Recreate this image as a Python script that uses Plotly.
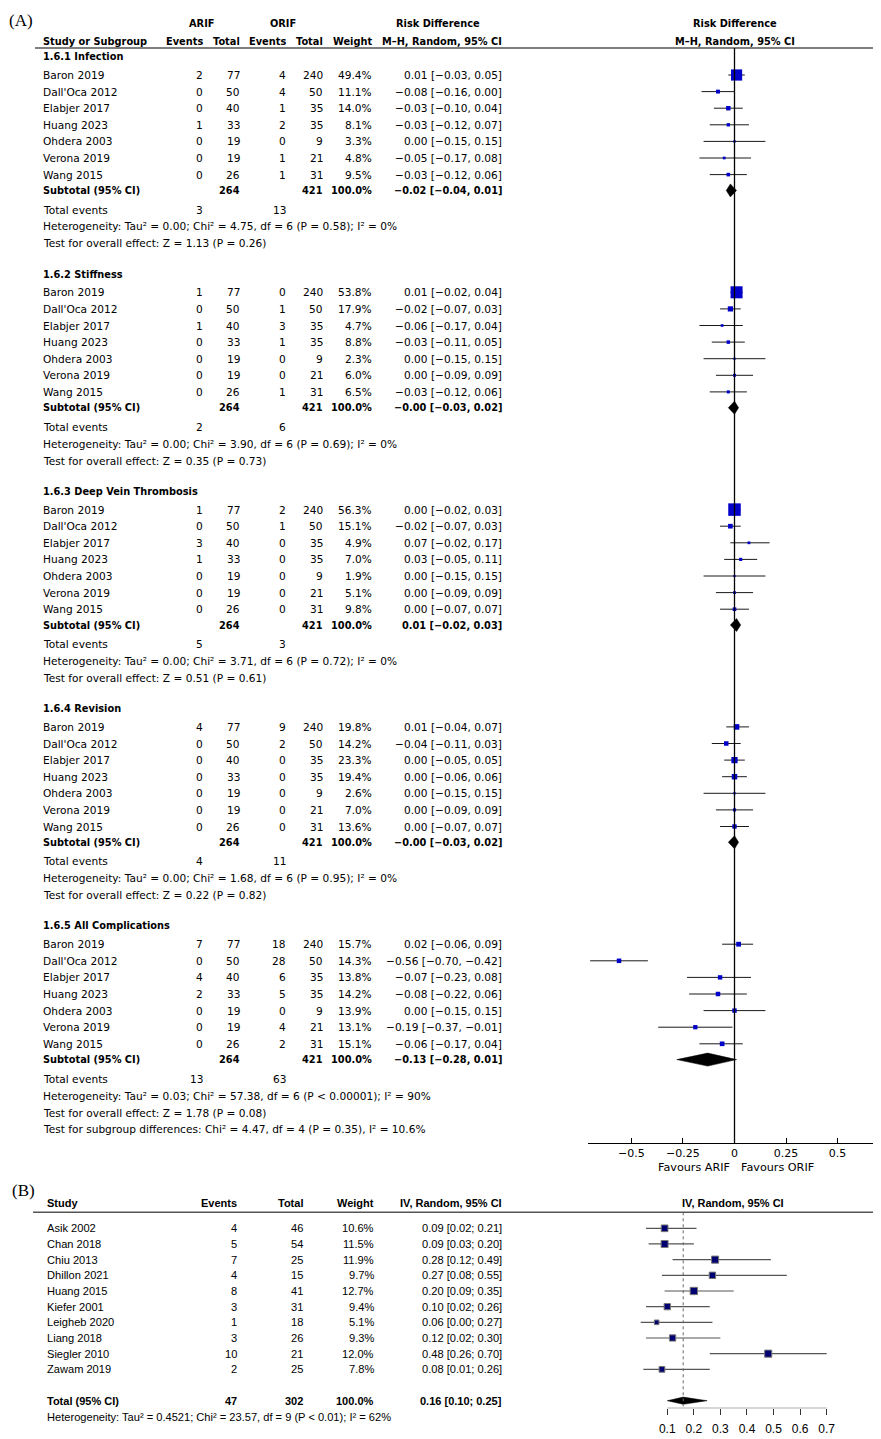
import plotly.graph_objects as go

# ---------------- Panel A data ----------------
group_titles = ["1.6.1 Infection", "1.6.2 Stiffness", "1.6.3 Deep Vein Thrombosis",
                "1.6.4 Revision", "1.6.5 All Complications"]
studies_a = ["Baron 2019", "Dall'Oca 2012", "Elabjer 2017", "Huang 2023",
             "Ohdera 2003", "Verona 2019", "Wang 2015"]
arif_total = [77, 50, 40, 33, 19, 19, 26]
orif_total = [240, 50, 35, 35, 9, 21, 31]
arif_events = [[2, 0, 0, 1, 0, 0, 0],
               [1, 0, 1, 0, 0, 0, 0],
               [1, 0, 3, 1, 0, 0, 0],
               [4, 0, 0, 0, 0, 0, 0],
               [7, 0, 4, 2, 0, 0, 0]]
orif_events = [[4, 4, 1, 2, 0, 1, 1],
               [0, 1, 3, 1, 0, 0, 1],
               [2, 1, 0, 0, 0, 0, 0],
               [9, 2, 0, 0, 0, 0, 0],
               [18, 28, 6, 5, 0, 4, 2]]
weights_a = [[49.4, 11.1, 14.0, 8.1, 3.3, 4.8, 9.5],
             [53.8, 17.9, 4.7, 8.8, 2.3, 6.0, 6.5],
             [56.3, 15.1, 4.9, 7.0, 1.9, 5.1, 9.8],
             [19.8, 14.2, 23.3, 19.4, 2.6, 7.0, 13.6],
             [15.7, 14.3, 13.8, 14.2, 13.9, 13.1, 15.1]]
rd_est = [[0.01, -0.08, -0.03, -0.03, 0.00, -0.05, -0.03],
          [0.01, -0.02, -0.06, -0.03, 0.00, 0.00, -0.03],
          [0.00, -0.02, 0.07, 0.03, 0.00, 0.00, 0.00],
          [0.01, -0.04, 0.00, 0.00, 0.00, 0.00, 0.00],
          [0.02, -0.56, -0.07, -0.08, 0.00, -0.19, -0.06]]
rd_lo = [[-0.03, -0.16, -0.10, -0.12, -0.15, -0.17, -0.12],
         [-0.02, -0.07, -0.17, -0.11, -0.15, -0.09, -0.12],
         [-0.02, -0.07, -0.02, -0.05, -0.15, -0.09, -0.07],
         [-0.04, -0.11, -0.05, -0.06, -0.15, -0.09, -0.07],
         [-0.06, -0.70, -0.23, -0.22, -0.15, -0.37, -0.17]]
rd_hi = [[0.05, 0.00, 0.04, 0.07, 0.15, 0.08, 0.06],
         [0.04, 0.03, 0.04, 0.05, 0.15, 0.09, 0.06],
         [0.03, 0.03, 0.17, 0.11, 0.15, 0.09, 0.07],
         [0.07, 0.03, 0.05, 0.06, 0.15, 0.09, 0.07],
         [0.09, -0.42, 0.08, 0.06, 0.15, -0.01, 0.04]]
sub_est = [-0.02, -0.00, 0.01, -0.00, -0.13]
sub_lo = [-0.04, -0.03, -0.02, -0.03, -0.28]
sub_hi = [0.01, 0.02, 0.03, 0.02, 0.01]
het_a = ["Heterogeneity: Tau² = 0.00; Chi² = 4.75, df = 6 (P = 0.58); I² = 0%",
         "Heterogeneity: Tau² = 0.00; Chi² = 3.90, df = 6 (P = 0.69); I² = 0%",
         "Heterogeneity: Tau² = 0.00; Chi² = 3.71, df = 6 (P = 0.72); I² = 0%",
         "Heterogeneity: Tau² = 0.00; Chi² = 1.68, df = 6 (P = 0.95); I² = 0%",
         "Heterogeneity: Tau² = 0.03; Chi² = 57.38, df = 6 (P < 0.00001); I² = 90%"]
overall_a = ["Test for overall effect: Z = 1.13 (P = 0.26)",
             "Test for overall effect: Z = 0.35 (P = 0.73)",
             "Test for overall effect: Z = 0.51 (P = 0.61)",
             "Test for overall effect: Z = 0.22 (P = 0.82)",
             "Test for overall effect: Z = 1.78 (P = 0.08)"]
subgroup_diff = "Test for subgroup differences: Chi² = 4.47, df = 4 (P = 0.35), I² = 10.6%"
ticks_a = [-0.5, -0.25, 0, 0.25, 0.5]
ticklabels_a = ["−0.5", "−0.25", "0", "0.25", "0.5"]

# ---------------- Panel B data ----------------
studies_b = ["Asik 2002", "Chan 2018", "Chiu 2013", "Dhillon 2021", "Huang 2015",
             "Kiefer 2001", "Leigheb 2020", "Liang 2018", "Siegler 2010", "Zawam 2019"]
events_b = [4, 5, 7, 4, 8, 3, 1, 3, 10, 2]
total_b = [46, 54, 25, 15, 41, 31, 18, 26, 21, 25]
weights_b = [10.6, 11.5, 11.9, 9.7, 12.7, 9.4, 5.1, 9.3, 12.0, 7.8]
est_b = [0.09, 0.09, 0.28, 0.27, 0.20, 0.10, 0.06, 0.12, 0.48, 0.08]
lo_b = [0.02, 0.03, 0.12, 0.08, 0.09, 0.02, 0.00, 0.02, 0.26, 0.01]
hi_b = [0.21, 0.20, 0.49, 0.55, 0.35, 0.26, 0.27, 0.30, 0.70, 0.26]
pooled_b = [0.16, 0.10, 0.25]
het_b = "Heterogeneity: Tau² = 0.4521; Chi² = 23.57, df = 9 (P < 0.01); I² = 62%"
ticks_b = [0.1, 0.2, 0.3, 0.4, 0.5, 0.6, 0.7]

# ---------------- geometry helpers (page pixels; body has an 8px margin) ----------------
OFF = 8
FW, FH = 881 - OFF, 1439 - OFF


def xp(x):
    return (x - OFF) / FW


def yd(y):
    return 1 - (y - OFF) / FH


FA = "DejaVu Sans"
FB = "Liberation Sans, Arial, sans-serif"
SA, SA_B = 10.6, 9.8
SB, SB_B = 11.1, 11.0
annotations = []
shapes = []


def mfmt(v):
    return f"{v:.2f}".replace("-", "−")


def txt(x, y, s, anchor="left", bold=False, size=None, family=FA, color="black"):
    if size is None:
        if family == FA:
            size = SA_B if bold else SA
        else:
            size = SB_B if bold else SB
    annotations.append(dict(x=xp(x), xref="paper", y=y, yref="y3",
                            text=f"<b>{s}</b>" if bold else s, xanchor=anchor, yanchor="middle",
                            showarrow=False, borderpad=0,
                            font=dict(family=family, size=size, color=color)))


def hline(x0, x1, y, color, width):
    shapes.append(dict(type="line", xref="paper", yref="y3", x0=xp(x0), x1=xp(x1), y0=y, y1=y,
                       line=dict(color=color, width=width)))


fig = go.Figure()

# ---------------- Panel A ----------------
A_TOP, A_BOT = 48, 1143
X_STUDY, X_EVA, X_TOA, X_EVO, X_TOO, X_W, X_CI = 42, 204, 241, 287, 324, 373, 503
G0, GSTEP = 56.7, 217.3

txt(8, 20, "(A)", family="Liberation Serif, Times New Roman, serif", size=17)
txt(201, 23, "ARIF", "center", True)
txt(283, 23, "ORIF", "center", True)
txt(438, 23, "Risk Difference", "center", True)
txt(735, 23, "Risk Difference", "center", True)
txt(X_STUDY, 41, "Study or Subgroup", "left", True)
txt(X_EVA, 41, "Events", "right", True)
txt(X_TOA, 41, "Total", "right", True)
txt(X_EVO, 41, "Events", "right", True)
txt(X_TOO, 41, "Total", "right", True)
txt(X_W, 41, "Weight", "right", True)
txt(X_CI, 41, "M–H, Random, 95% CI", "right", True)
txt(735, 41, "M–H, Random, 95% CI", "center", True)
hline(35, 881, A_TOP, "black", 1.2)

ci_x, ci_y, mk_x, mk_y, mk_s = [], [], [], [], []
for g in range(5):
    h = G0 + GSTEP * g
    txt(X_STUDY, h, group_titles[g], "left", True)
    for i, s in enumerate(studies_a):
        y = h + 18.3 + 16.6 * i
        txt(X_STUDY, y, s)
        txt(X_EVA, y, str(arif_events[g][i]), "right")
        txt(X_TOA, y, str(arif_total[i]), "right")
        txt(X_EVO, y, str(orif_events[g][i]), "right")
        txt(X_TOO, y, str(orif_total[i]), "right")
        txt(X_W, y, f"{weights_a[g][i]:.1f}%", "right")
        txt(X_CI, y, f"{mfmt(rd_est[g][i])} [{mfmt(rd_lo[g][i])}, {mfmt(rd_hi[g][i])}]", "right")
        ci_x += [rd_lo[g][i], rd_hi[g][i], None]
        ci_y += [y, y, None]
        mk_x.append(rd_est[g][i])
        mk_y.append(y)
        mk_s.append(1.8 + 0.19 * weights_a[g][i])
    ys = h + 133.7
    txt(X_STUDY, ys, "Subtotal (95% CI)", "left", True)
    txt(X_TOA, ys, str(sum(arif_total)), "right", True)
    txt(X_TOO, ys, str(sum(orif_total)), "right", True)
    txt(X_W, ys, "100.0%", "right", True)
    txt(X_CI, ys, f"{mfmt(sub_est[g])} [{mfmt(sub_lo[g])}, {mfmt(sub_hi[g])}]", "right", True)
    dh = 6.5
    fig.add_trace(go.Scatter(x=[sub_lo[g], sub_est[g], sub_hi[g], sub_est[g], sub_lo[g]],
                             y=[ys, ys - dh, ys, ys + dh, ys], mode="lines", fill="toself",
                             fillcolor="black", line=dict(color="black", width=0.5),
                             xaxis="x", yaxis="y", hoverinfo="skip"))
    yt = h + 152.8
    txt(X_STUDY, yt, "Total events")
    txt(X_EVA, yt, str(sum(arif_events[g])), "right")
    txt(X_EVO, yt, str(sum(orif_events[g])), "right")
    txt(X_STUDY, h + 169.6, het_a[g])
    txt(X_STUDY, h + 186.6, overall_a[g])
    if g == 4:
        txt(X_STUDY, h + 203.0, subgroup_diff)

fig.add_trace(go.Scatter(x=ci_x, y=ci_y, mode="lines", line=dict(color="#1a1a1a", width=1),
                         xaxis="x", yaxis="y", hoverinfo="skip"))
fig.add_trace(go.Scatter(x=mk_x, y=mk_y, mode="markers",
                         marker=dict(symbol="square", size=mk_s, color="#0000c8", opacity=1,
                                     line=dict(width=0)),
                         xaxis="x", yaxis="y", hoverinfo="skip"))
shapes.append(dict(type="line", xref="x", yref="y", x0=0, x1=0, y0=A_TOP, y1=A_BOT,
                   line=dict(color="black", width=1.3)))
txt(731, 1167, "Favours ARIF", "right", size=11.2)
txt(740, 1167, "Favours ORIF", "left", size=11.2)

# ---------------- Panel B ----------------
B_TOP, B_BOT = 1212.3, 1408.3
XB_STUDY, XB_EV, XB_TO, XB_W, XB_CI = 46, 238, 304, 375, 503
txt(11, 1190, "(B)", family="Liberation Serif, Times New Roman, serif", size=17)
txt(XB_STUDY, 1202.7, "Study", "left", True, family=FB)
txt(XB_EV, 1202.7, "Events", "right", True, family=FB)
txt(XB_TO, 1202.7, "Total", "right", True, family=FB)
txt(XB_W, 1202.7, "Weight", "right", True, family=FB)
txt(XB_CI, 1202.7, "IV, Random, 95% CI", "right", True, family=FB)
txt(733, 1202.7, "IV, Random, 95% CI", "center", True, family=FB)
hline(33, 873, B_TOP, "#555555", 1.5)

bx, by, bmx, bmy, bms = [], [], [], [], []
for i, s in enumerate(studies_b):
    y = 1228.3 + 15.67 * i
    txt(XB_STUDY, y, s, "left", family=FB)
    txt(XB_EV, y, str(events_b[i]), "right", family=FB)
    txt(XB_TO, y, str(total_b[i]), "right", family=FB)
    txt(XB_W, y, f"{weights_b[i]:.1f}%", "right", family=FB)
    txt(XB_CI, y, f"{est_b[i]:.2f} [{lo_b[i]:.2f}; {hi_b[i]:.2f}]", "right", family=FB)
    bx += [lo_b[i], hi_b[i], None]
    by += [y, y, None]
    bmx.append(est_b[i])
    bmy.append(y)
    bms.append(2.05 * weights_b[i] ** 0.5)

yT = 1400.7
txt(XB_STUDY, yT, "Total (95% CI)", "left", True, family=FB)
txt(XB_EV, yT, str(sum(events_b)), "right", True, family=FB)
txt(XB_TO, yT, str(sum(total_b)), "right", True, family=FB)
txt(XB_W, yT, "100.0%", "right", True, family=FB)
txt(XB_CI, yT, f"{pooled_b[0]:.2f} [{pooled_b[1]:.2f}; {pooled_b[2]:.2f}]", "right", True, family=FB)
txt(XB_STUDY, 1417.3, het_b, "left", family=FB)

shapes.append(dict(type="line", xref="x2", yref="y2", x0=pooled_b[0], x1=pooled_b[0], y0=B_TOP, y1=B_BOT - 2,
                   line=dict(color="#666666", width=1, dash="dot")))
shapes.append(dict(type="line", xref="x2", yref="y2", x0=ticks_b[0], x1=ticks_b[-1], y0=B_BOT, y1=B_BOT,
                   line=dict(color="#333333", width=1)))

fig.add_trace(go.Scatter(x=bx, y=by, mode="lines", line=dict(color="#555555", width=1.2),
                         xaxis="x2", yaxis="y2", hoverinfo="skip"))
fig.add_trace(go.Scatter(x=bmx, y=bmy, mode="markers",
                         marker=dict(symbol="square", size=bms, color="#000070", opacity=1,
                                     line=dict(color="#777777", width=1)),
                         xaxis="x2", yaxis="y2", hoverinfo="skip"))
dhb = 3.6
fig.add_trace(go.Scatter(x=[pooled_b[1], pooled_b[0], pooled_b[2], pooled_b[0], pooled_b[1]],
                         y=[yT, yT - dhb, yT, yT + dhb, yT], mode="lines", fill="toself",
                         fillcolor="black", line=dict(color="black", width=0.5),
                         xaxis="x2", yaxis="y2", hoverinfo="skip"))

# ---------------- axes ----------------
A_X0, A_X1, A_ZERO, A_SCALE = 588, 881, 734.5, 206.2
B_X0, B_X1, B_ZERO, B_SCALE = 600, 873, 640.7, 265.67

fig.update_layout(
    width=FW, height=FH, autosize=False, margin=dict(l=0, r=0, t=0, b=0),
    paper_bgcolor="white", plot_bgcolor="rgba(0,0,0,0)", showlegend=False,
    xaxis=dict(domain=[xp(A_X0), xp(A_X1)], range=[(A_X0 - A_ZERO) / A_SCALE, (A_X1 - A_ZERO) / A_SCALE],
               anchor="y", showline=True, linecolor="black", linewidth=1.2, ticks="inside",
               ticklen=5, tickwidth=1, tickcolor="black", tickvals=ticks_a, ticktext=ticklabels_a,
               showgrid=False, zeroline=False, fixedrange=True, ticklabelstandoff=0,
               tickfont=dict(family=FA, size=11, color="black")),
    yaxis=dict(domain=[yd(A_BOT), yd(A_TOP)], range=[A_BOT, A_TOP], visible=False, fixedrange=True),
    xaxis2=dict(domain=[xp(B_X0), xp(B_X1)], range=[(B_X0 - B_ZERO) / B_SCALE, (B_X1 - B_ZERO) / B_SCALE],
                anchor="y2", showline=False, ticks="outside", ticklen=6, tickwidth=1, tickcolor="#333333",
                tickvals=ticks_b, ticktext=[f"{t:.1f}" for t in ticks_b], showgrid=False, zeroline=False,
                fixedrange=True, ticklabelstandoff=3,
                tickfont=dict(family=FB, size=12, color="black")),
    yaxis2=dict(domain=[yd(B_BOT), yd(B_TOP)], range=[B_BOT, B_TOP], visible=False, fixedrange=True),
    xaxis3=dict(domain=[0, 1], range=[0, 1], anchor="y3", visible=False, fixedrange=True),
    yaxis3=dict(domain=[0, 1], range=[OFF + FH, OFF], anchor="x3", visible=False, fixedrange=True),
    annotations=annotations, shapes=shapes,
)

fig.write_html("out.html")
